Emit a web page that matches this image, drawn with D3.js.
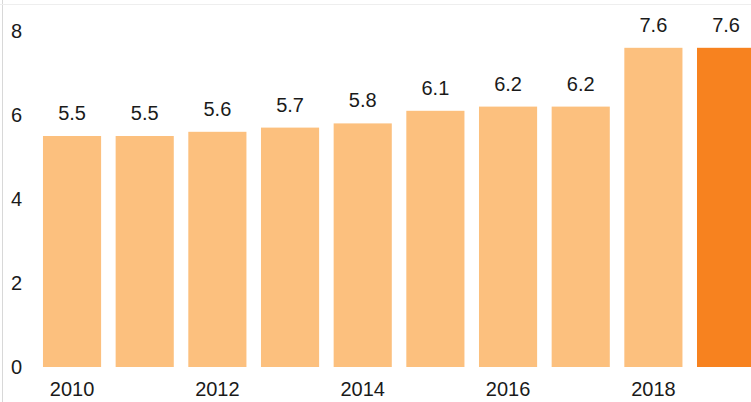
<!DOCTYPE html>
<html>
<head>
<meta charset="utf-8">
<script src="https://cdn.jsdelivr.net/npm/d3@7"></script>
<style>
    body { margin: 0; background: #fff; }
    svg { display: block; font-family: "Liberation Sans", Arial, sans-serif; }
</style>
</head>
<body>
<div id="chart"></div>
<script>
// data
const years = ["2010", "2011", "2012", "2013", "2014", "2015", "2016", "2017", "2018", "2019"];
const values = [5.5, 5.5, 5.6, 5.7, 5.8, 6.1, 6.2, 6.2, 7.6, 7.6];
const yTicks = [0, 2, 4, 6, 8];
const xTickLabels = ["2010", "2012", "2014", "2016", "2018"];

const width = 751, height = 402;

let svg = d3.select("#chart").append("svg")
    .attr("width", width)
    .attr("height", height);

// faint frame edges from the cropped original
svg.append("line").attr("x1", 2.5).attr("x2", 2.5).attr("y1", 0).attr("y2", height)
    .attr("stroke", "#d8d8d8");
svg.append("line").attr("x1", 0).attr("x2", width).attr("y1", 4.5).attr("y2", 4.5)
    .attr("stroke", "#eeeeee");

let xScale = d3.scaleBand().domain(years)
    .range([35.7, 762.4])
    .paddingInner(0.2)
    .paddingOuter(0.1);
// zero at the bottom, 8 near the top
let yScale = d3.scaleLinear().domain([0, 8]).range([367, 31]);

// y axis labels only, no line
let yAxis = svg.append("g").attr("transform", "translate(11,0)")
    .call(d3.axisLeft(yScale).tickValues(yTicks).tickSize(0).tickPadding(0));
yAxis.select(".domain").remove();
yAxis.selectAll("text")
    .attr("text-anchor", "start")
    .attr("x", 0)
    .attr("font-size", "20px")
    .attr("font-family", "Liberation Sans, Arial, sans-serif")
    .attr("fill", "#1a1a1a");

let bars = svg.append("g").selectAll("rect").data(values);
bars.join("rect")
    .attr("x", (d, i) => xScale(years[i]))
    .attr("y", d => yScale(d))
    .attr("width", xScale.bandwidth())
    .attr("height", d => yScale(0) - yScale(d))
    .attr("fill", (d, i) => i === years.length - 1 ? "#f7821f" : "#fcc07e");

svg.append("g").selectAll("text").data(values)
    .join("text")
    .attr("x", (d, i) => xScale(years[i]) + xScale.bandwidth() / 2)
    .attr("y", d => yScale(d) - 16)
    .attr("text-anchor", "middle")
    .attr("font-size", "20px")
    .attr("fill", "#1a1a1a")
    .text(d => d.toFixed(1));

// x axis: every other year
let xAxis = svg.append("g").attr("transform", "translate(0,367)")
    .call(d3.axisBottom(xScale).tickValues(xTickLabels).tickSize(0).tickPadding(15));
xAxis.select(".domain").remove();
xAxis.selectAll("text")
    .attr("font-size", "20px")
    .attr("font-family", "Liberation Sans, Arial, sans-serif")
    .attr("fill", "#1a1a1a");
</script>
</body>
</html>
